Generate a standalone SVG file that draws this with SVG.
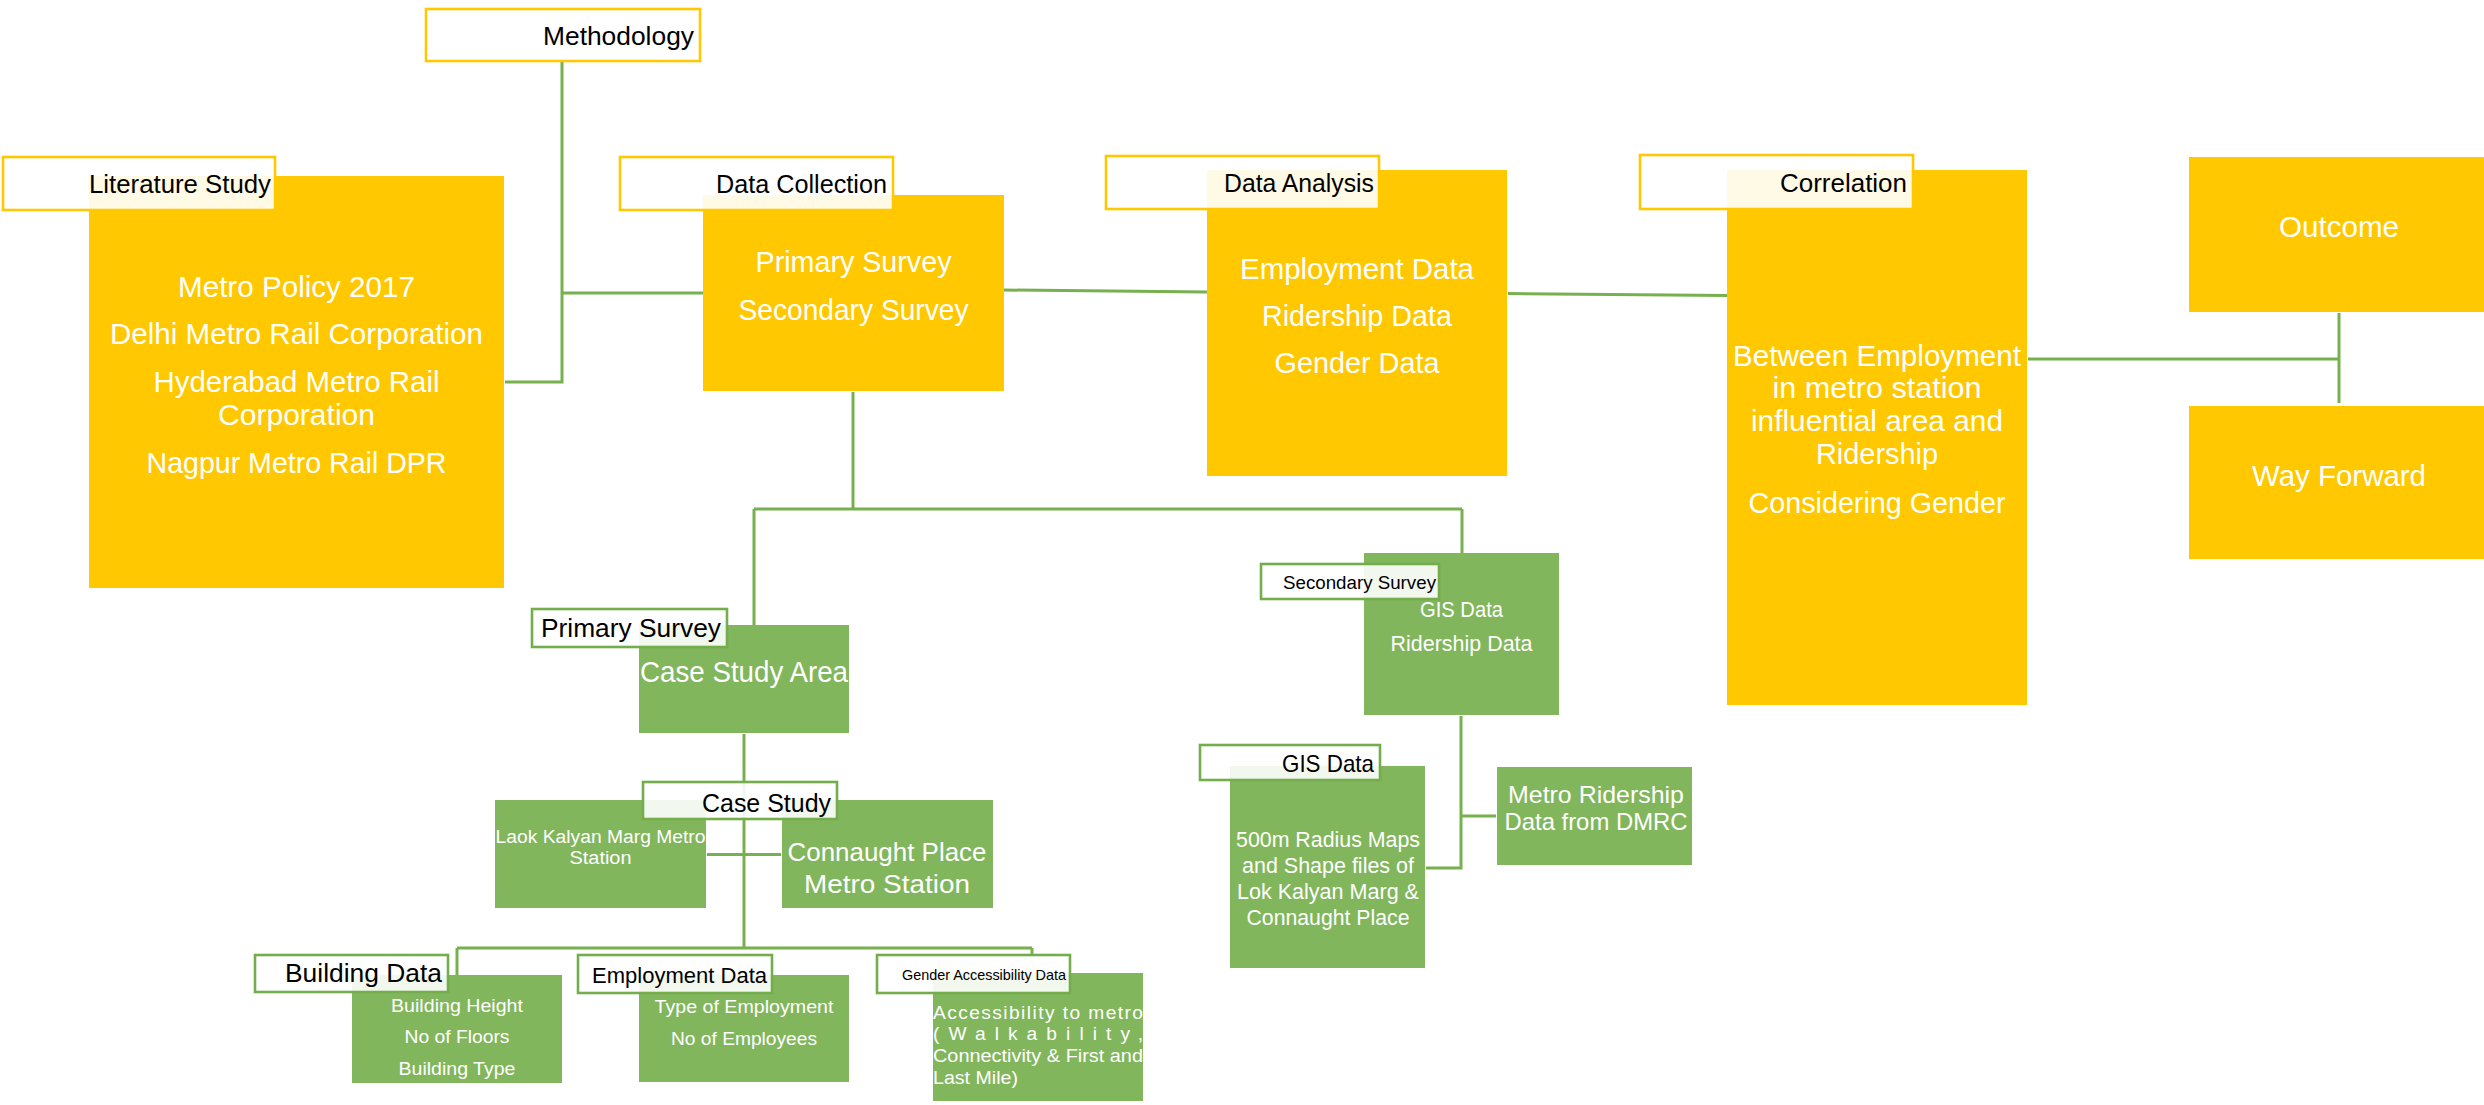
<svg xmlns="http://www.w3.org/2000/svg" width="2484" height="1105" viewBox="0 0 2484 1105">
<style>
.bg{fill:#ffffff}
.y{fill:#FFC800}
.g{fill:#82B65C}
.ly{fill:#ffffff;fill-opacity:0.9;stroke:#FFC800;stroke-width:2.6}
.lg{fill:#ffffff;fill-opacity:0.9;stroke:#74AE4C;stroke-width:2.6}
text{font-family:"Liberation Sans",Arial,sans-serif}
.lt{fill:#000000;text-anchor:end}
.wt{fill:#ffffff;text-anchor:middle}
.wl{fill:#ffffff;text-anchor:start}
.f32{font-size:28.8px}
.f28{font-size:25px}
.f29{font-size:26.4px}
.f27{font-size:24px}
.f24{font-size:21.6px}
.f21{font-size:19.2px}
.f16{font-size:14.4px}
.conn{stroke:#76B04F;stroke-width:3;fill:none}
</style>
<rect class="bg" x="0" y="0" width="2484" height="1105"/>
<g id="connectors">
  <path class="conn" d="M562,61 V382 H505"/>
  <path class="conn" d="M562,293 H703"/>
  <path class="conn" d="M1004,290 L1207,292"/>
  <path class="conn" d="M1508,293.5 L1727,295.5"/>
  <path class="conn" d="M2028,359 H2339"/>
  <path class="conn" d="M2339,313 V403"/>
  <path class="conn" d="M853,392 V509"/>
  <path class="conn" d="M754,509 H1462"/>
  <path class="conn" d="M754,509 V625"/>
  <path class="conn" d="M1462,509 V553"/>
  <path class="conn" d="M744,734 V948"/>
  <path class="conn" d="M707,854.5 H781"/>
  <path class="conn" d="M457,948 H1032"/>
  <path class="conn" d="M457,948 V975"/>
  <path class="conn" d="M1032,948 V955"/>
  <path class="conn" d="M1461,716 V868 H1426"/>
  <path class="conn" d="M1461,816 H1496"/>
</g>
<g id="methodology">
  <rect class="ly" x="426" y="9" width="274" height="52"/>
  <text class="lt f28" x="694" y="45" textLength="151" lengthAdjust="spacingAndGlyphs">Methodology</text>
</g>
<g id="literature-study">
  <rect class="y" x="89" y="176" width="415" height="412"/>
  <rect class="ly" x="3" y="157" width="272" height="53"/>
  <text class="lt f28" x="271" y="193" textLength="182" lengthAdjust="spacingAndGlyphs">Literature Study</text>
  <text class="wt f32" x="296.5" y="297" textLength="237" lengthAdjust="spacingAndGlyphs">Metro Policy 2017</text>
  <text class="wt f32" x="296.5" y="344" textLength="373" lengthAdjust="spacingAndGlyphs">Delhi Metro Rail Corporation</text>
  <text class="wt f32" x="296.5" y="392" textLength="286" lengthAdjust="spacingAndGlyphs">Hyderabad Metro Rail</text>
  <text class="wt f32" x="296.5" y="425" textLength="157" lengthAdjust="spacingAndGlyphs">Corporation</text>
  <text class="wt f32" x="296.5" y="473" textLength="300" lengthAdjust="spacingAndGlyphs">Nagpur Metro Rail DPR</text>
</g>
<g id="data-collection">
  <rect class="y" x="703" y="195" width="301" height="196"/>
  <rect class="ly" x="620" y="157" width="273" height="53"/>
  <text class="lt f28" x="887" y="193" textLength="171" lengthAdjust="spacingAndGlyphs">Data Collection</text>
  <text class="wt f32" x="853.5" y="272" textLength="196" lengthAdjust="spacingAndGlyphs">Primary Survey</text>
  <text class="wt f32" x="853.5" y="320" textLength="230" lengthAdjust="spacingAndGlyphs">Secondary Survey</text>
</g>
<g id="data-analysis">
  <rect class="y" x="1207" y="170" width="300" height="306"/>
  <rect class="ly" x="1106" y="156" width="273" height="53"/>
  <text class="lt f28" x="1374" y="192" textLength="150" lengthAdjust="spacingAndGlyphs">Data Analysis</text>
  <text class="wt f32" x="1357" y="279" textLength="234" lengthAdjust="spacingAndGlyphs">Employment Data</text>
  <text class="wt f32" x="1357" y="326" textLength="190" lengthAdjust="spacingAndGlyphs">Ridership Data</text>
  <text class="wt f32" x="1357" y="373" textLength="165" lengthAdjust="spacingAndGlyphs">Gender Data</text>
</g>
<g id="correlation">
  <rect class="y" x="1727" y="170" width="300" height="535"/>
  <rect class="ly" x="1640" y="155" width="273" height="54"/>
  <text class="lt f28" x="1907" y="192" textLength="127" lengthAdjust="spacingAndGlyphs">Correlation</text>
  <text class="wt f32" x="1877" y="366" textLength="288" lengthAdjust="spacingAndGlyphs">Between Employment</text>
  <text class="wt f32" x="1877" y="398" textLength="209" lengthAdjust="spacingAndGlyphs">in metro station</text>
  <text class="wt f32" x="1877" y="431" textLength="252" lengthAdjust="spacingAndGlyphs">influential area and</text>
  <text class="wt f32" x="1877" y="464" textLength="122" lengthAdjust="spacingAndGlyphs">Ridership</text>
  <text class="wt f32" x="1877" y="513" textLength="257" lengthAdjust="spacingAndGlyphs">Considering Gender</text>
</g>
<g id="outcome">
  <rect class="y" x="2189" y="157" width="301" height="155"/>
  <text class="wt f32" x="2339" y="237" textLength="120" lengthAdjust="spacingAndGlyphs">Outcome</text>
</g>
<g id="way-forward">
  <rect class="y" x="2189" y="406" width="301" height="153"/>
  <text class="wt f32" x="2339" y="486" textLength="174" lengthAdjust="spacingAndGlyphs">Way Forward</text>
</g>
<g id="primary-survey">
  <rect class="g" x="639" y="625" width="210" height="108"/>
  <rect class="lg" x="532" y="609" width="195" height="38"/>
  <text class="lt f29" x="721" y="637" textLength="180" lengthAdjust="spacingAndGlyphs">Primary Survey</text>
  <text class="wt f32" x="744" y="682" textLength="208" lengthAdjust="spacingAndGlyphs">Case Study Area</text>
</g>
<g id="secondary-survey">
  <rect class="g" x="1364" y="553" width="195" height="162"/>
  <rect class="lg" x="1261" y="564" width="178" height="35"/>
  <text class="lt f21" x="1436" y="589" textLength="153" lengthAdjust="spacingAndGlyphs">Secondary Survey</text>
  <text class="wt f24" x="1461.5" y="617" textLength="83" lengthAdjust="spacingAndGlyphs">GIS Data</text>
  <text class="wt f24" x="1461.5" y="651" textLength="142" lengthAdjust="spacingAndGlyphs">Ridership Data</text>
</g>
<g id="laok-kalyan">
  <rect class="g" x="495" y="800" width="211" height="108"/>
  <text class="wt f21" x="600.5" y="843" textLength="210" lengthAdjust="spacingAndGlyphs">Laok Kalyan Marg Metro</text>
  <text class="wt f21" x="600.5" y="864" textLength="62" lengthAdjust="spacingAndGlyphs">Station</text>
</g>
<g id="connaught-place">
  <rect class="g" x="782" y="800" width="211" height="108"/>
  <text class="wt f29" x="887" y="861" textLength="199" lengthAdjust="spacingAndGlyphs">Connaught Place</text>
  <text class="wt f29" x="887" y="893" textLength="166" lengthAdjust="spacingAndGlyphs">Metro Station</text>
</g>
<g id="case-study">
  <rect class="lg" x="643" y="782" width="194" height="37"/>
  <text class="lt f29" x="831" y="812" textLength="129" lengthAdjust="spacingAndGlyphs">Case Study</text>
</g>
<g id="gis-data">
  <rect class="g" x="1230" y="766" width="195" height="202"/>
  <rect class="lg" x="1200" y="745" width="180" height="35"/>
  <text class="lt f27" x="1374" y="772" textLength="92" lengthAdjust="spacingAndGlyphs">GIS Data</text>
  <text class="wt f24" x="1328" y="847" textLength="184" lengthAdjust="spacingAndGlyphs">500m Radius Maps</text>
  <text class="wt f24" x="1328" y="873" textLength="172" lengthAdjust="spacingAndGlyphs">and Shape files of</text>
  <text class="wt f24" x="1328" y="899" textLength="182" lengthAdjust="spacingAndGlyphs">Lok Kalyan Marg &amp;</text>
  <text class="wt f24" x="1328" y="925" textLength="163" lengthAdjust="spacingAndGlyphs">Connaught Place</text>
</g>
<g id="metro-ridership">
  <rect class="g" x="1497" y="767" width="195" height="98"/>
  <text class="wt f27" x="1596" y="803" textLength="176" lengthAdjust="spacingAndGlyphs">Metro Ridership</text>
  <text class="wt f27" x="1596" y="830" textLength="183" lengthAdjust="spacingAndGlyphs">Data from DMRC</text>
</g>
<g id="building-data">
  <rect class="g" x="352" y="975" width="210" height="108"/>
  <rect class="lg" x="255" y="955" width="193" height="37"/>
  <text class="lt f29" x="442" y="982" textLength="157" lengthAdjust="spacingAndGlyphs">Building Data</text>
  <text class="wt f21" x="457" y="1012" textLength="132" lengthAdjust="spacingAndGlyphs">Building Height</text>
  <text class="wt f21" x="457" y="1043" textLength="105" lengthAdjust="spacingAndGlyphs">No of Floors</text>
  <text class="wt f21" x="457" y="1075" textLength="117" lengthAdjust="spacingAndGlyphs">Building Type</text>
</g>
<g id="employment-data">
  <rect class="g" x="639" y="975" width="210" height="107"/>
  <rect class="lg" x="578" y="955" width="194" height="38"/>
  <text class="lt f24" x="767" y="983" textLength="175" lengthAdjust="spacingAndGlyphs">Employment Data</text>
  <text class="wt f21" x="744" y="1013" textLength="179" lengthAdjust="spacingAndGlyphs">Type of Employment</text>
  <text class="wt f21" x="744" y="1045" textLength="146" lengthAdjust="spacingAndGlyphs">No of Employees</text>
</g>
<g id="gender-accessibility-data">
  <rect class="g" x="933" y="973" width="210" height="128"/>
  <rect class="lg" x="877" y="955" width="193" height="38"/>
  <text class="lt f16" x="1066" y="980" textLength="164" lengthAdjust="spacingAndGlyphs">Gender Accessibility Data</text>
  <text class="wl f21" x="933" y="1019" textLength="210" lengthAdjust="spacing">Accessibility to metro</text>
  <text class="wl f21" x="933" y="1040" textLength="210" lengthAdjust="spacing">(Walkability,</text>
  <text class="wl f21" x="933" y="1062" textLength="210" lengthAdjust="spacingAndGlyphs">Connectivity &amp; First and</text>
  <text class="wl f21" x="933" y="1084" textLength="85" lengthAdjust="spacingAndGlyphs">Last Mile)</text>
</g>
</svg>
